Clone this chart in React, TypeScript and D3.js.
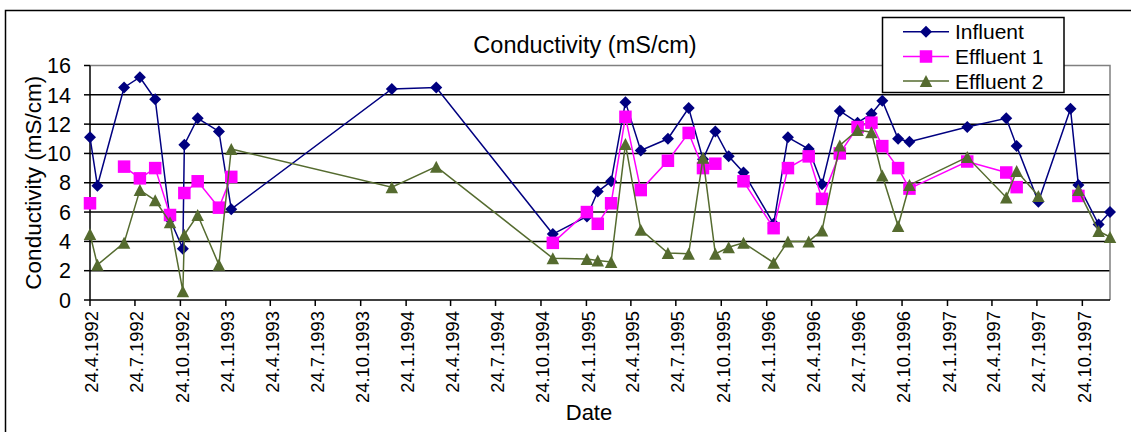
import React from "react";
import * as d3 from "d3";

// Sampling dates (ISO) and conductivity readings in mS/cm; null = not sampled
const DATES = [
  "1992-04-24", "1992-05-09", "1992-07-02", "1992-08-03", "1992-09-03", "1992-10-03",
  "1992-10-29", "1992-11-01", "1992-11-28", "1993-01-10", "1993-02-04", "1993-12-26",
  "1994-03-26", "1994-11-17", "1995-01-25", "1995-02-16", "1995-03-15", "1995-04-13",
  "1995-05-14", "1995-07-08", "1995-08-19", "1995-09-17", "1995-10-12", "1995-11-08",
  "1995-12-08", "1996-02-07", "1996-03-07", "1996-04-18", "1996-05-15", "1996-06-20",
  "1996-07-26", "1996-08-23", "1996-09-14", "1996-10-16", "1996-11-08", "1997-03-05",
  "1997-05-23", "1997-06-13", "1997-07-27", "1997-09-30", "1997-10-16", "1997-11-26",
  "1997-12-19",
];

const INFLUENT = [
  11.1, 7.8, 14.5, 15.2, 13.7, 5.5,
  3.5, 10.6, 12.4, 11.5, 6.2, 14.4,
  14.5, 4.5, 5.7, 7.4, 8.1, 13.5,
  10.2, 11.0, 13.1, 9.6, 11.5, 9.8,
  8.7, 5.2, 11.1, 10.3, 7.9, 12.9,
  12.1, 12.7, 13.6, 11.0, 10.8, 11.8,
  12.4, 10.5, 6.7, 13.05, 7.85, 5.15,
  6.0,
];

const EFFLUENT_1 = [
  6.6, null, 9.1, 8.3, 9.0, 5.8,
  null, 7.3, 8.1, 6.3, 8.4, null,
  null, 3.9, 6.0, 5.2, 6.6, 12.5,
  7.5, 9.5, 11.4, 9.0, 9.3, null,
  8.1, 4.9, 9.0, 9.8, 6.9, 10.0,
  11.8, 12.1, 10.5, 9.0, 7.6, 9.45,
  8.7, 7.7, null, null, 7.1, null,
  null,
];

const EFFLUENT_2 = [
  4.5, 2.4, 3.9, 7.5, 6.8, 5.3,
  0.6, 4.45, 5.8, 2.4, 10.3, 7.7,
  9.1, 2.85, 2.8, 2.7, 2.6, 10.65,
  4.8, 3.2, 3.15, 9.7, 3.15, 3.6,
  3.9, 2.55, 4.0, 4.0, 4.75, 10.55,
  11.6, 11.45, 8.5, 5.05, 7.85, 9.75,
  7.0, 8.8, 7.1, null, 7.5, 4.7,
  4.3,
];

const SERIES_NAMES = ["Influent", "Effluent 1", "Effluent 2"];
const Y_TICKS = [0, 2, 4, 6, 8, 10, 12, 14, 16];
const X_TICK_LABELS = [
  "24.4.1992", "24.7.1992", "24.10.1992", "24.1.1993", "24.4.1993", "24.7.1993",
  "24.10.1993", "24.1.1994", "24.4.1994", "24.7.1994", "24.10.1994", "24.1.1995",
  "24.4.1995", "24.7.1995", "24.10.1995", "24.1.1996", "24.4.1996", "24.7.1996",
  "24.10.1996", "24.1.1997", "24.4.1997", "24.7.1997", "24.10.1997",
];

const W = 1131;
const H = 432;
const PLOT = { left: 90, right: 1110, top: 65.5, bottom: 300 };
const FONT = "Arial, 'Liberation Sans', sans-serif";
const COLORS = ["#000080", "#FF00FF", "#556B2F"];

type Pt = { date: Date; v: number | null };

function Marker({ kind, x, y, color }: { kind: number; x: number; y: number; color: string }) {
  if (kind === 0) {
    const r = 6;
    return <polygon points={`${x},${y - r} ${x + r},${y} ${x},${y + r} ${x - r},${y}`} fill={color} />;
  }
  if (kind === 1) {
    const s = 12.5;
    return <rect x={x - s / 2} y={y - s / 2} width={s} height={s} fill={color} />;
  }
  const w = 12.5;
  const h = 12;
  return <polygon points={`${x},${y - h / 2} ${x + w / 2},${y + h / 2} ${x - w / 2},${y + h / 2}`} fill={color} />;
}

export default function App() {
  const parseIso = d3.timeParse("%Y-%m-%d");
  const parseTick = d3.timeParse("%d.%m.%Y");
  const dates = DATES.map((d) => parseIso(d) as Date);

  const x = d3
    .scaleTime()
    .domain([dates[0], dates[dates.length - 1]])
    .range([PLOT.left, PLOT.right]);
  const y = d3.scaleLinear().domain([0, 16]).range([PLOT.bottom, PLOT.top]);

  const seriesValues = [INFLUENT, EFFLUENT_1, EFFLUENT_2];
  const series: Pt[][] = seriesValues.map((vals) => vals.map((v, i) => ({ date: dates[i], v })));

  const line = d3
    .line<Pt>()
    .defined((d) => d.v != null)
    .x((d) => x(d.date))
    .y((d) => y(d.v as number));

  const xTicks = X_TICK_LABELS.map((label) => ({ label, date: parseTick(label) as Date }));

  const legend = { x: 882.5, y: 17.5, w: 181.5, h: 75, rowY: [31.7, 56.5, 81], lineX0: 903, lineX1: 949, textX: 955 };

  return (
    <svg
      width={W}
      height={H}
      viewBox={`0 0 ${W} ${H}`}
      style={{ position: "absolute", left: 0, top: 0, display: "block", background: "#fff" }}
      fontFamily={FONT}
    >
      <rect x={0} y={0} width={W} height={H} fill="#fff" />
      {/* chart frame */}
      <rect x={5.5} y={10.5} width={1300} height={600} fill="none" stroke="#000" strokeWidth={1.5} />

      {/* title */}
      <text x={585} y={53} textAnchor="middle" fontSize={23.5} fill="#000">
        Conductivity (mS/cm)
      </text>

      {/* horizontal gridlines */}
      {Y_TICKS.filter((t) => t > 0 && t < 16).map((t) => (
        <line key={t} x1={PLOT.left} x2={PLOT.right} y1={y(t)} y2={y(t)} stroke="#000" strokeWidth={1.5} />
      ))}
      {/* plot area border (top and right) */}
      <polyline
        points={`${PLOT.left},${y(16)} ${PLOT.right},${y(16)} ${PLOT.right},${PLOT.bottom}`}
        fill="none"
        stroke="#808080"
        strokeWidth={1.5}
      />

      {/* y axis */}
      <line x1={PLOT.left} x2={PLOT.left} y1={y(16)} y2={PLOT.bottom} stroke="#000" strokeWidth={1.5} />
      {Y_TICKS.map((t) => (
        <g key={t}>
          <line x1={PLOT.left - 6} x2={PLOT.left} y1={y(t)} y2={y(t)} stroke="#000" strokeWidth={1.5} />
          <text x={71} y={y(t)} dy="0.36em" textAnchor="end" fontSize={21.5} fill="#000">
            {t}
          </text>
        </g>
      ))}
      <text
        transform={`translate(33,${(PLOT.top + PLOT.bottom) / 2}) rotate(-90)`}
        textAnchor="middle"
        dy="0.36em"
        fontSize={22.5}
        fill="#000"
      >
        Conductivity (mS/cm)
      </text>

      {/* x axis */}
      <line x1={PLOT.left} x2={PLOT.right} y1={PLOT.bottom} y2={PLOT.bottom} stroke="#000" strokeWidth={1.5} />
      {xTicks.map((t) => (
        <g key={t.label}>
          <line x1={x(t.date)} x2={x(t.date)} y1={PLOT.bottom} y2={PLOT.bottom + 6} stroke="#000" strokeWidth={1.5} />
          <text
            transform={`translate(${x(t.date)},311) rotate(-90)`}
            textAnchor="end"
            dy="0.45em"
            fontSize={18.4}
            fill="#000"
          >
            {t.label}
          </text>
        </g>
      ))}
      <text x={589} y={420} textAnchor="middle" fontSize={22} fill="#000">
        Date
      </text>

      {/* data series */}
      {series.map((pts, si) => (
        <g key={SERIES_NAMES[si]}>
          <path d={line(pts) || ""} fill="none" stroke={COLORS[si]} strokeWidth={1.5} />
          {pts
            .filter((p) => p.v != null)
            .map((p, i) => (
              <Marker key={i} kind={si} x={x(p.date)} y={y(p.v as number)} color={COLORS[si]} />
            ))}
        </g>
      ))}

      {/* legend */}
      <rect x={legend.x} y={legend.y} width={legend.w} height={legend.h} fill="#fff" stroke="#000" strokeWidth={1.5} />
      {SERIES_NAMES.map((name, i) => (
        <g key={name}>
          <line
            x1={legend.lineX0}
            x2={legend.lineX1}
            y1={legend.rowY[i]}
            y2={legend.rowY[i]}
            stroke={COLORS[i]}
            strokeWidth={1.5}
          />
          <Marker kind={i} x={(legend.lineX0 + legend.lineX1) / 2} y={legend.rowY[i]} color={COLORS[i]} />
          <text x={legend.textX} y={legend.rowY[i]} dy="0.36em" fontSize={21} fill="#000">
            {name}
          </text>
        </g>
      ))}
    </svg>
  );
}
